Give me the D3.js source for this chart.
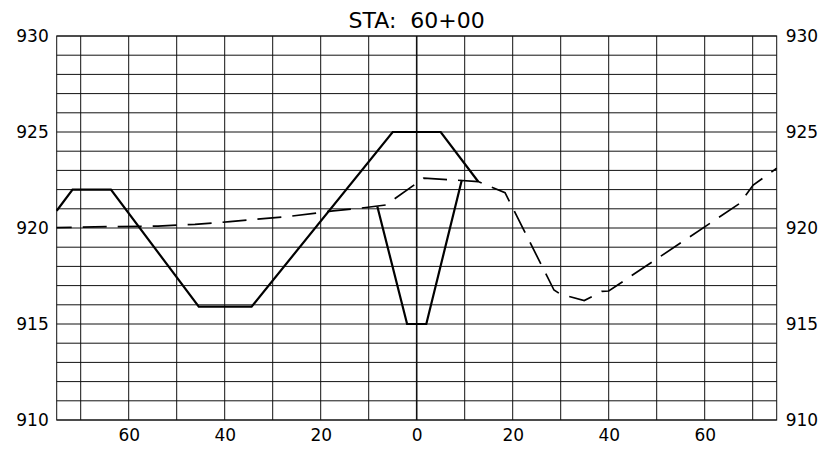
<!DOCTYPE html>
<html>
<head>
<meta charset="utf-8">
<script src="https://cdn.jsdelivr.net/npm/d3@7"></script>
<style>
  body { margin: 0; background: #fff; }
  svg { display: block; }
</style>
</head>
<body>
<svg id="chart" width="821" height="451"></svg>
<script>
// ---- data ----
const titleText = "STA:  60+00";

const xDomain = [-75, 75];
const yDomain = [910, 930];

const xGridValues = [-70, -60, -50, -40, -30, -20, -10, 0, 10, 20, 30, 40, 50, 60, 70];
const xLabelValues = [-60, -40, -20, 0, 20, 40, 60];
const xLabelTexts = ["60", "40", "20", "0", "20", "40", "60"];

const yGridValues = [910, 911, 912, 913, 914, 915, 916, 917, 918, 919, 920,
                     921, 922, 923, 924, 925, 926, 927, 928, 929, 930];
const yLabelValues = [910, 915, 920, 925, 930];
const yLabelTexts = ["910", "915", "920", "925", "930"];

// proposed section (solid)
const designOffsets = [-75, -71.7, -63.7, -45.4, -34.4, -5, 5, 12.8];
const designElevs   = [920.9, 922, 922, 915.9, 915.9, 925, 925, 922.42];

// inner structure (solid)
const structOffsets = [-8.2, -2, 2, 9.4];
const structElevs   = [921.12, 915, 915, 922.5];

// existing ground (dashed)
const groundOffsets = [-75, -63.9, -53.9, -46.2, -38.9, -26.4, -17.4, -11.8, -6.4,
                       1.5, 12.8, 18.4, 28.6, 29.9, 34.9, 38.6, 40, 67.35, 70.1, 75];
const groundElevs   = [920.02, 920.07, 920.1, 920.19, 920.33, 920.61, 920.89, 921.03, 921.2,
                       922.6, 922.42, 921.84, 916.77, 916.56, 916.22, 916.7, 916.72, 921.29, 922.24, 923.11];

// ---- layout ----
const W = 821, H = 451;
const margin = { left: 56.7, right: 44.3, top: 36, bottom: 31 };
const x = d3.scaleLinear().domain(xDomain).range([margin.left, W - margin.right]);
const y = d3.scaleLinear().domain(yDomain).range([H - margin.bottom, margin.top]);

const svg = d3.select("#chart");
const fontFam = "'DejaVu Sans', sans-serif";

// grid
const grid = svg.append("g");
grid.selectAll("line.v").data(xGridValues).enter().append("line")
  .attr("x1", d => x(d)).attr("x2", d => x(d))
  .attr("y1", y(yDomain[0])).attr("y2", y(yDomain[1]))
  .attr("stroke", "#111").attr("stroke-width", d => d === 0 ? 1.6 : 1);
grid.selectAll("line.h").data(yGridValues).enter().append("line")
  .attr("x1", x(xDomain[0])).attr("x2", x(xDomain[1]))
  .attr("y1", d => y(d)).attr("y2", d => y(d))
  .attr("stroke", "#111").attr("stroke-width", 1);
// border
grid.append("rect")
  .attr("x", x(xDomain[0])).attr("y", y(yDomain[1]))
  .attr("width", x(xDomain[1]) - x(xDomain[0]))
  .attr("height", y(yDomain[0]) - y(yDomain[1]))
  .attr("fill", "none").attr("stroke", "#111").attr("stroke-width", 1);

// axes labels
const left = svg.append("g").attr("transform", `translate(${x(xDomain[0])},0)`)
  .call(d3.axisLeft(y).tickValues(yLabelValues).tickSize(0).tickPadding(8)
        .tickFormat((d, i) => yLabelTexts[i]));
const right = svg.append("g").attr("transform", `translate(${x(xDomain[1])},0)`)
  .call(d3.axisRight(y).tickValues(yLabelValues).tickSize(0).tickPadding(9)
        .tickFormat((d, i) => yLabelTexts[i]));
const bottom = svg.append("g").attr("transform", `translate(0,${y(yDomain[0])})`)
  .call(d3.axisBottom(x).tickValues(xLabelValues).tickSize(0).tickPadding(9)
        .tickFormat((d, i) => xLabelTexts[i]));
[left, right, bottom].forEach(g => {
  g.select(".domain").remove();
  g.selectAll("text").attr("font-family", fontFam).attr("font-size", 17).attr("fill", "#000");
});

// lines
const line = d3.line().x(d => x(d[0])).y(d => y(d[1]));
svg.append("path")
  .datum(d3.zip(groundOffsets, groundElevs))
  .attr("d", line).attr("fill", "none").attr("stroke", "#000")
  .attr("stroke-width", 1.7).attr("stroke-dasharray", "24,11").attr("stroke-dashoffset", 9);
svg.append("path")
  .datum(d3.zip(designOffsets, designElevs))
  .attr("d", line).attr("fill", "none").attr("stroke", "#000")
  .attr("stroke-width", 2.2).attr("stroke-linejoin", "miter");
svg.append("path")
  .datum(d3.zip(structOffsets, structElevs))
  .attr("d", line).attr("fill", "none").attr("stroke", "#000")
  .attr("stroke-width", 2.2).attr("stroke-linejoin", "miter");

// title
svg.append("text")
  .attr("x", x(0)).attr("y", 27.5)
  .attr("text-anchor", "middle")
  .attr("xml:space", "preserve")
  .style("white-space", "pre")
  .attr("font-family", fontFam).attr("font-size", 22).attr("fill", "#000")
  .text(titleText);
</script>
</body>
</html>
